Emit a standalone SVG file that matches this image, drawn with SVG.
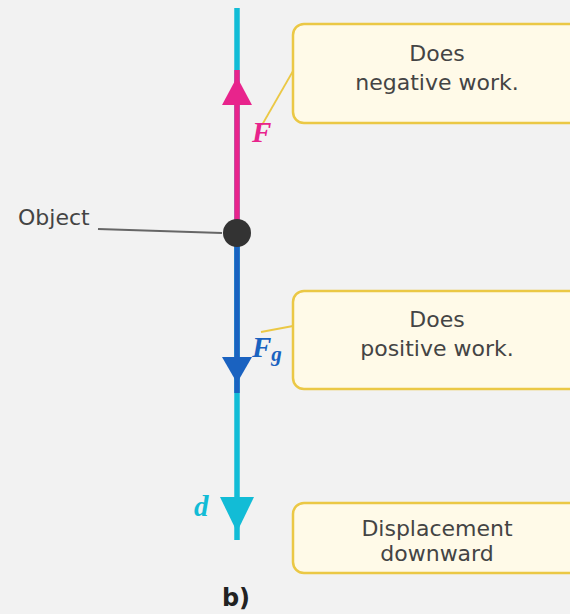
<svg xmlns="http://www.w3.org/2000/svg" width="570" height="614" viewBox="0 0 570 614">
<style>
.box{fill:#fffae8;stroke:#ebc845;stroke-width:2.5}
.bt{font-family:"DejaVu Sans",sans-serif;font-size:22px;fill:#444;text-anchor:middle}
.lead{stroke:#ebc845;stroke-width:1.8;fill:none}
.sym{font-family:"Liberation Serif",serif;font-style:italic;font-weight:bold}
</style>
<rect width="570" height="614" fill="#f2f2f2"/>
<g id="connectors">
<line class="lead" x1="293" y1="71" x2="262" y2="125"/>
<line class="lead" x1="293" y1="326" x2="261" y2="332"/>
<line x1="98" y1="229" x2="222" y2="233" stroke="#666" stroke-width="2"/>
</g>
<g id="displacement">
<line x1="237" y1="8" x2="237" y2="540" stroke="#12bcd6" stroke-width="5.5"/>
<polygon points="220,497 254,497 237,532" fill="#12bcd6"/>
<text class="sym" x="194" y="516" font-size="29" fill="#12bcd6">d</text>
</g>
<g id="force-F">
<line x1="237" y1="70" x2="237" y2="233" stroke="#e8248c" stroke-width="5.5"/>
<polygon points="237,77 222,105 252,105" fill="#e8248c"/>
<text class="sym" x="252" y="142" font-size="29" fill="#e8248c">F</text>
</g>
<g id="force-Fg">
<line x1="237" y1="233" x2="237" y2="393" stroke="#1a62c0" stroke-width="5.5"/>
<polygon points="222,357 252,357 237,383" fill="#1a62c0"/>
<text class="sym" x="252" y="357" font-size="29" fill="#1a62c0">F<tspan font-size="21" dy="4">g</tspan></text>
</g>
<g id="object">
<circle cx="237" cy="233" r="14" fill="#333"/>
<text x="18" y="225" font-family="DejaVu Sans,sans-serif" font-size="22" fill="#444">Object</text>
</g>
<g id="box-negative">
<rect class="box" x="293" y="24" width="290" height="99" rx="11"/>
<text class="bt" x="437" y="61">Does</text>
<text class="bt" x="437" y="90">negative work.</text>
</g>
<g id="box-positive">
<rect class="box" x="293" y="291" width="290" height="98" rx="11"/>
<text class="bt" x="437" y="327">Does</text>
<text class="bt" x="437" y="356">positive work.</text>
</g>
<g id="box-displacement">
<rect class="box" x="293" y="503" width="290" height="70" rx="11"/>
<text class="bt" x="437" y="536">Displacement</text>
<text class="bt" x="437" y="561">downward</text>
</g>
<text x="236" y="606" font-family="DejaVu Sans,sans-serif" font-size="24" font-weight="bold" fill="#222" text-anchor="middle">b)</text>
</svg>
